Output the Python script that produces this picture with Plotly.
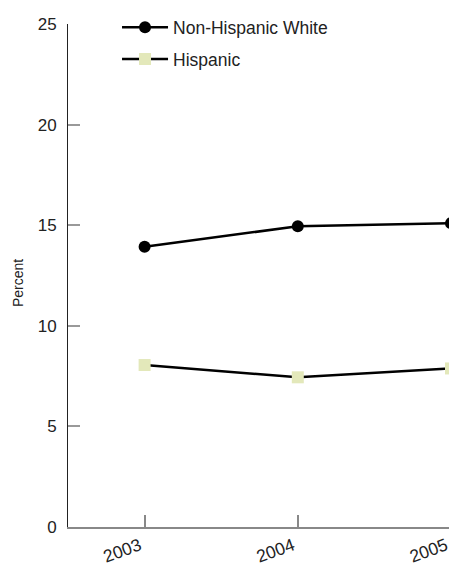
import plotly.graph_objects as go

years = [2003, 2004, 2005]
white = [13.93, 14.95, 15.1]
hispanic = [8.05, 7.44, 7.88]
y_ticks = [0, 5, 10, 15, 20, 25]
x_tick_labels = ["2003", "2004", "2005"]

FONT = "Liberation Sans, Arial, Helvetica, sans-serif"

fig = go.Figure()
fig.add_trace(go.Scatter(
    x=years, y=white, name="Non-Hispanic White", mode="lines+markers",
    line=dict(color="#000000", width=2.6),
    marker=dict(symbol="circle", size=12, color="#000000"),
    legendgroup="a", cliponaxis=False,
))
fig.add_trace(go.Scatter(
    x=years, y=hispanic, name="Hispanic", mode="lines+markers",
    line=dict(color="#000000", width=2.6),
    marker=dict(symbol="square", size=12, color="#e3e8ba"),
    legendgroup="b", cliponaxis=False,
))

fig.add_annotation(
    text="Percent", textangle=-90,
    xref="paper", yref="paper", x=-0.1305, y=0.485,
    xanchor="center", yanchor="middle", showarrow=False,
    font=dict(family=FONT, size=14, color="#222222"),
)

fig.update_layout(
    width=449, height=564,
    margin=dict(l=60, r=6, t=16, b=45, autoexpand=False),
    plot_bgcolor="white", paper_bgcolor="white",
    font=dict(family=FONT, size=17, color="#222222"),
    showlegend=True,
    legend=dict(
        x=0.128, y=1.029, xanchor="left", yanchor="top",
        bgcolor="rgba(0,0,0,0)", tracegroupgap=6,
        traceorder="grouped", itemwidth=46,
        font=dict(family=FONT, size=17.5, color="#222222"),
    ),
    xaxis=dict(
        range=[2002.5, 2005.0],
        tickvals=years, ticktext=x_tick_labels,
        tickangle=-20, automargin=False,
        ticks="inside", ticklen=12, tickwidth=2, tickcolor="#888888",
        showline=True, linecolor="#888888", linewidth=2,
        showgrid=False, zeroline=False,
        ticklabelstandoff=0, ticklabelshift=-5,
        tickfont=dict(family=FONT, size=17.5, color="#222222"),
    ),
    yaxis=dict(
        range=[0, 25], automargin=False,
        tickvals=y_ticks,
        ticks="inside", ticklen=12, tickwidth=2, tickcolor="#999999",
        showline=True, linecolor="#222222", linewidth=1,
        showgrid=False, zeroline=False,
        ticklabelstandoff=7,
        tickfont=dict(family=FONT, size=17, color="#222222"),
    ),
)

fig.write_html("out.html")
